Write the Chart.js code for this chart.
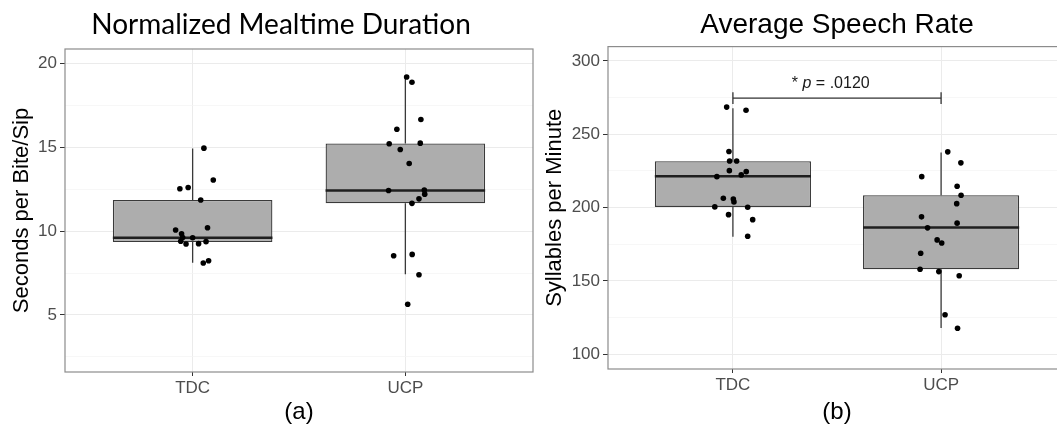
<!DOCTYPE html>
<html>
<head>
<meta charset="utf-8">
<script src="https://cdn.jsdelivr.net/npm/chart.js@4.4.1/dist/chart.umd.min.js"></script>
<style>
  body { margin: 0; width: 1057px; height: 424px; overflow: hidden; position: relative; background: #fff; }
  canvas { position: absolute; top: 0; }
</style>
</head>
<body>
<canvas id="dur" width="562" height="424" style="left:0"></canvas>
<canvas id="rate" width="540" height="424" style="left:540px"></canvas>
<script>
// categories
const groups = ['TDC', 'UCP'];
const groupPos = [1, 2];

// (a) normalized mealtime duration, seconds per bite/sip
const durTicks = [2.5, 5, 7.5, 10, 12.5, 15, 17.5, 20];
const durLabelled = [5, 10, 15, 20];
const durLower = [8.11, 7.42];
const durQ1 = [9.35, 11.65];
const durMedian = [9.6, 12.42];
const durQ3 = [11.85, 15.22];
const durUpper = [14.92, 19.18];
const durTdc = [14.94, 13.04, 12.52, 12.6, 11.85, 10.2, 10.06, 9.84, 9.62, 9.6, 9.39, 9.23, 9.25, 9.37, 8.1, 8.23];
const durTdcJitter = [0.053, 0.097, -0.06, -0.021, 0.038, 0.07, -0.08, -0.052, -0.047, 0.0, -0.056, -0.031, 0.028, 0.063, 0.05, 0.075];
const durUcp = [19.18, 18.87, 16.65, 16.07, 15.2, 15.24, 14.86, 14.03, 12.42, 12.44, 12.2, 11.92, 11.65, 8.53, 8.61, 7.4, 5.64];
const durUcpJitter = [0.006, 0.031, 0.073, -0.04, -0.076, 0.07, -0.024, 0.018, -0.079, 0.089, 0.091, 0.064, 0.031, -0.055, 0.032, 0.064, 0.011];

// (b) average speech rate, syllables per minute
const rateTicks = [100, 125, 150, 175, 200, 225, 250, 275, 300];
const rateLabelled = [100, 150, 200, 250, 300];
const rateLower = [180.2, 118];
const rateQ1 = [200.5, 158];
const rateMedian = [221.4, 186.4];
const rateQ3 = [231.6, 208.4];
const rateUpper = [267.8, 237.5];
const rateTdc = [268.5, 266.4, 238.2, 231.8, 231.8, 225.2, 224.5, 222.3, 221.1, 206.4, 205.9, 203.9, 200.5, 200.3, 195.2, 191.8, 180.5];
const rateTdcJitter = [-0.03, 0.063, -0.019, -0.016, 0.018, -0.017, 0.064, 0.04, -0.077, -0.046, 0.002, 0.005, -0.087, 0.071, -0.021, 0.095, 0.071];
const rateUcp = [238, 230.5, 221.1, 214.6, 208.4, 202.7, 193.7, 189.4, 186.2, 178, 175.9, 168.9, 158, 156.4, 153.6, 127, 117.8];
const rateUcpJitter = [0.032, 0.095, -0.093, 0.077, 0.096, 0.075, -0.094, 0.077, -0.065, -0.019, 0.003, -0.098, -0.101, -0.011, 0.087, 0.019, 0.079];

// significance bracket between the groups
const sigY = 274.6;
const sigCap = 4;
const sigLabelY = 284.3;
const sigLabelX = 1.47;

const BOX_W = 0.75;
const SANS = '"Liberation Sans", Arial, sans-serif';

function boxSets(lower, q1, median, q3, upper, points, jitters) {
  const sets = [];
  points.forEach((vals, g) => {
    sets.push({
      type: 'scatter', order: 0,
      data: vals.map((v, i) => ({ x: groupPos[g] + jitters[g][i], y: v })),
      pointRadius: 2.8, pointBackgroundColor: '#000', pointBorderWidth: 0
    });
  });
  groupPos.forEach((p, g) => {
    sets.push({
      type: 'line', order: 1,
      data: [{ x: p - BOX_W / 2, y: median[g] }, { x: p + BOX_W / 2, y: median[g] }],
      borderColor: '#1f1f1f', borderWidth: 2.6, pointRadius: 0
    });
  });
  sets.push({
    type: 'bar', order: 2,
    data: groupPos.map((p, g) => ({ x: p, y: [q1[g], q3[g]] })),
    backgroundColor: '#adadad', borderColor: '#3a3a3a', borderWidth: 1.3, borderSkipped: false,
    barPercentage: BOX_W, categoryPercentage: 1
  });
  groupPos.forEach((p, g) => {
    [[upper[g], q3[g]], [q1[g], lower[g]]].forEach(seg => {
      sets.push({
        type: 'line', order: 3,
        data: [{ x: p, y: seg[0] }, { x: p, y: seg[1] }],
        borderColor: '#3a3a3a', borderWidth: 1.3, pointRadius: 0
      });
    });
  });
  return sets;
}

const panelBorder = {
  id: 'panelBorder',
  afterDatasetsDraw(chart) {
    const a = chart.chartArea, c = chart.ctx;
    c.save();
    c.strokeStyle = '#8c8c8c';
    c.lineWidth = 1.2;
    c.strokeRect(a.left, a.top, a.right - a.left, a.bottom - a.top);
    c.restore();
  }
};

function makeChart(id, cfg) {
  const isMajor = v => cfg.labelled.includes(v);
  return new Chart(document.getElementById(id), {
    type: 'bar',
    data: { datasets: cfg.datasets },
    options: {
      responsive: false,
      animation: false,
      layout: { padding: { left: cfg.padLeft, right: cfg.padRight } },
      plugins: {
        legend: { display: false },
        tooltip: { enabled: false },
        title: {
          display: true, text: cfg.title, color: '#000', fullSize: cfg.titleFull,
          font: { family: cfg.titleFont, size: 28, weight: 'normal' },
          padding: { top: 8, bottom: cfg.titleGap }
        }
      },
      scales: {
        x: {
          type: 'linear', min: 0.4, max: 2.6, offset: false,
          afterBuildTicks: s => { s.ticks = groupPos.map(v => ({ value: v })); },
          afterFit: s => { s.height = cfg.xHeight; },
          ticks: {
            autoSkip: false, padding: 2, color: '#4d4d4d',
            font: { family: SANS, size: 17 },
            callback: (v, i) => groups[i]
          },
          grid: { offset: false, color: '#ebebeb', tickColor: '#333', tickLength: 4 },
          border: { display: false },
          title: {
            display: true, text: cfg.panel, color: '#000',
            font: { family: SANS, size: 24, lineHeight: 1 }, padding: 0
          }
        },
        y: {
          type: 'linear', min: cfg.min, max: cfg.max,
          afterBuildTicks: s => { s.ticks = cfg.ticks.map(v => ({ value: v })); },
          afterFit: s => { s.width = cfg.yWidth; },
          ticks: {
            autoSkip: false, padding: 3, color: '#4d4d4d',
            font: { family: SANS, size: 17 },
            callback: v => isMajor(v) ? String(v) : ''
          },
          grid: {
            color: c => isMajor(c.tick.value) ? '#ebebeb' : '#f3f3f3',
            lineWidth: c => isMajor(c.tick.value) ? 1 : 0.7,
            tickColor: c => isMajor(c.tick.value) ? '#333' : 'rgba(0,0,0,0)',
            tickLength: 5
          },
          border: { display: false },
          title: {
            display: true, text: cfg.yTitle, color: '#000',
            font: { family: SANS, size: 22 }, padding: { top: cfg.yTitlePad, bottom: 0 }
          }
        }
      }
    },
    plugins: [panelBorder].concat(cfg.extra || [])
  });
}

makeChart('dur', {
  title: 'Normalized Mealtime Duration', titleFont: 'Lato, "Open Sans", sans-serif', titleFull: true,
  titleGap: 7.4, panel: '(a)', yTitle: 'Seconds per Bite/Sip', yTitlePad: -20.2,
  min: 1.6, max: 20.85, ticks: durTicks, labelled: durLabelled,
  xHeight: 52, yWidth: 36, padLeft: 29, padRight: 29,
  datasets: boxSets(durLower, durQ1, durMedian, durQ3, durUpper,
    [durTdc, durUcp], [durTdcJitter, durUcpJitter])
});

const sigBracket = [
  { type: 'line', order: 4, data: [{ x: 1, y: sigY }, { x: 2, y: sigY }] },
  { type: 'line', order: 4, data: [{ x: 1, y: sigY - sigCap }, { x: 1, y: sigY + sigCap }] },
  { type: 'line', order: 4, data: [{ x: 2, y: sigY - sigCap }, { x: 2, y: sigY + sigCap }] }
].map(d => Object.assign(d, { borderColor: '#333', borderWidth: 1.3, pointRadius: 0 }));

const sigLabel = {
  id: 'sigLabel',
  afterDatasetsDraw(chart) {
    const c = chart.ctx;
    const x = chart.scales.x.getPixelForValue(sigLabelX);
    const y = chart.scales.y.getPixelForValue(sigLabelY);
    const parts = [['* ', 'normal'], ['p', 'italic'], [' = .0120', 'normal']];
    c.save();
    c.fillStyle = '#1a1a1a';
    c.textBaseline = 'middle';
    let total = 0;
    parts.forEach(p => { c.font = p[1] + ' 16px ' + SANS; total += c.measureText(p[0]).width; });
    let cx = x - total / 2;
    parts.forEach(p => {
      c.font = p[1] + ' 16px ' + SANS;
      c.fillText(p[0], cx, y);
      cx += c.measureText(p[0]).width;
    });
    c.restore();
  }
};

makeChart('rate', {
  title: 'Average Speech Rate', titleFont: SANS, titleFull: false,
  titleGap: 5, panel: '(b)', yTitle: 'Syllables per Minute', yTitlePad: 2,
  min: 90, max: 309.75, ticks: rateTicks, labelled: rateLabelled,
  xHeight: 55, yWidth: 68, padLeft: 0, padRight: 14,
  datasets: boxSets(rateLower, rateQ1, rateMedian, rateQ3, rateUpper,
    [rateTdc, rateUcp], [rateTdcJitter, rateUcpJitter]).concat(sigBracket),
  extra: [sigLabel]
});
</script>
</body>
</html>
